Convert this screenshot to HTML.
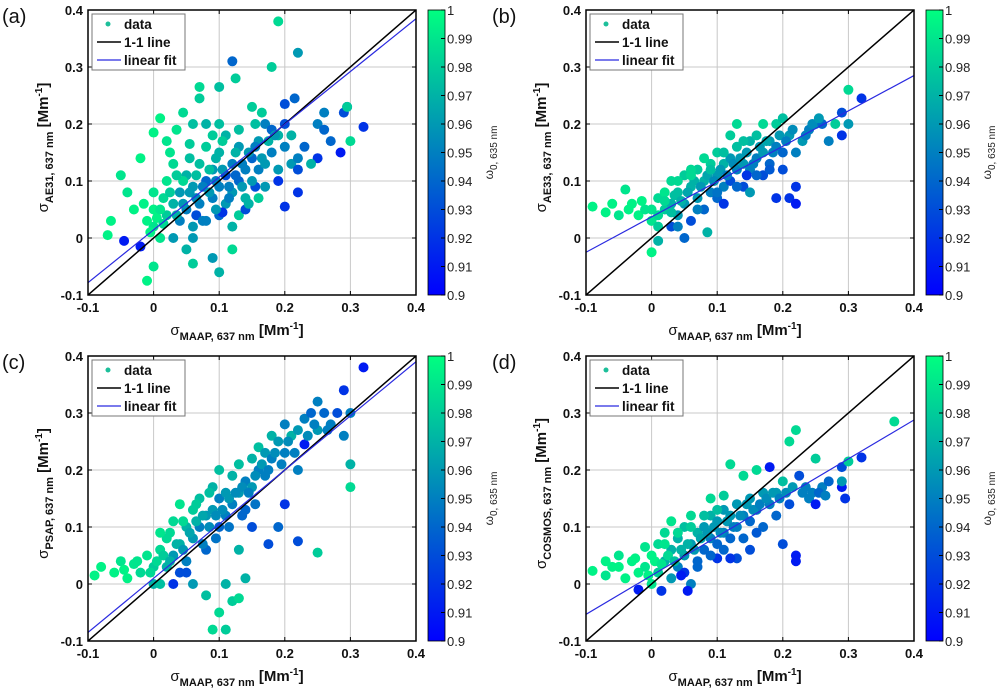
<!DOCTYPE html>
<html><head><meta charset="utf-8"><style>
body{margin:0;background:#fff;}
svg{display:block;font-family:"Liberation Sans",Arial,sans-serif;}
</style></head><body>
<svg id="fig" width="999" height="690" viewBox="0 0 999 690">
<defs>
<linearGradient id="cmap" x1="0" y1="1" x2="0" y2="0">
<stop offset="0" stop-color="rgb(0,0,255)"/><stop offset="1" stop-color="rgb(0,255,128)"/>
</linearGradient>
</defs>
</svg>
<script>
const xTicks = [-0.1, 0, 0.1, 0.2, 0.3, 0.4];
const yTicks = [-0.1, 0, 0.1, 0.2, 0.3, 0.4];
const xTickLabels = ["-0.1", "0", "0.1", "0.2", "0.3", "0.4"];
const yTickLabels = ["-0.1", "0", "0.1", "0.2", "0.3", "0.4"];
const cbTicks = [0.9,0.91,0.92,0.93,0.94,0.95,0.96,0.97,0.98,0.99,1];
const cbTickLabels = ["0.9","0.91","0.92","0.93","0.94","0.95","0.96","0.97","0.98","0.99","1"];
const panelNames = ["a","b","c","d"];
const instrumentNames = ["AE31","AE33","PSAP","COSMOS"];
const fitSlopes = [0.926, 0.62, 0.95, 0.682];
const fitIntercepts = [0.0143, 0.037, 0.01, 0.015];

const pointsA = [[0.19,0.38,.985],[0.22,0.325,.96],[0.12,0.31,.94],[0.18,0.3,.98],[0.32,0.195,.92],[0.295,0.23,.93],[0.29,0.22,.93],[0.285,0.15,.91],[0.3,0.17,.985],[0.295,0.23,.98],[-0.065,0.03,.995],[-0.07,0.005,.995],[-0.045,-0.005,.91],[-0.02,-0.015,.91],[-0.01,-0.075,.995],[0.0,-0.05,.99],[0.1,-0.06,.97],[0.09,-0.035,.96],[0.06,-0.045,.98],[0.12,-0.02,.985],[-0.05,0.11,.99],[-0.02,0.14,.995],[0.0,0.185,.995],[0.01,0.21,.995],[0.07,0.265,.985],[0.07,0.245,.98],[0.125,0.28,.98],[0.1,0.265,.975],[0.2,0.235,.93],[0.215,0.245,.94],[0.25,0.2,.95],[0.26,0.19,.94],[0.27,0.17,.94],[0.25,0.14,.92],[0.2,0.055,.92],[0.22,0.08,.92],[0.19,0.1,.92],[0.155,0.09,.93],[0.0,0.02,.99],[0.0,0.05,.995],[-0.01,0.03,.995],[0.01,0.0,.99],[0.02,0.04,.98],[0.03,0.06,.97],[0.02,0.1,.99],[0.03,0.13,.985],[0.04,0.08,.96],[0.05,0.05,.95],[0.05,0.11,.97],[0.06,0.09,.96],[0.06,0.02,.96],[0.07,0.06,.95],[0.07,0.13,.975],[0.08,0.1,.94],[0.08,0.16,.98],[0.09,0.07,.95],[0.09,0.12,.96],[0.1,0.04,.94],[0.1,0.09,.95],[0.1,0.15,.97],[0.1,0.2,.975],[0.11,0.11,.93],[0.11,0.06,.96],[0.12,0.13,.95],[0.12,0.08,.96],[0.13,0.1,.94],[0.13,0.16,.96],[0.13,0.19,.975],[0.14,0.07,.97],[0.14,0.12,.95],[0.15,0.14,.94],[0.15,0.1,.96],[0.15,0.23,.98],[0.16,0.17,.96],[0.16,0.12,.95],[0.17,0.2,.95],[0.17,0.13,.96],[0.18,0.19,.94],[0.18,0.15,.95],[0.19,0.12,.96],[0.19,0.18,.97],[0.2,0.16,.95],[0.2,0.2,.93],[0.21,0.13,.96],[0.21,0.18,.97],[0.22,0.14,.95],[0.22,0.12,.93],[0.23,0.16,.94],[0.24,0.13,.97],[0.26,0.22,.95],[0.04,0.03,.95],[0.03,0.0,.96],[0.05,-0.02,.97],[0.06,0.0,.96],[0.08,0.03,.95],[0.12,0.02,.97],[0.13,0.04,.98],[0.035,0.19,.99],[0.055,0.165,.98],[0.045,0.22,.985],[0.08,0.2,.97],[0.09,0.18,.98],[0.11,0.18,.97],[0.16,0.07,.98],[0.17,0.09,.96],[-0.03,0.05,.995],[-0.04,0.08,.99],[0.015,0.07,.985],[0.025,0.15,.99],[0.105,0.045,.92],[0.065,0.04,.93],[0.14,0.05,.93],
[-0.005,0.01,.995],[0.005,0.035,.995],[-0.015,0.06,.995],[0.0,0.08,.99],[0.01,0.05,.99],[0.015,0.025,.985],[0.025,0.08,.98],[0.035,0.04,.97],[0.045,0.06,.96],[0.055,0.08,.96],[0.065,0.07,.955],[0.075,0.09,.95],[0.085,0.08,.96],[0.095,0.1,.95],[0.105,0.12,.96],[0.115,0.09,.95],[0.125,0.11,.94],[0.135,0.13,.95],[0.145,0.15,.96],[0.155,0.16,.95],[0.165,0.14,.96],[0.175,0.17,.97],[0.185,0.18,.96],[0.125,0.15,.97],[0.085,0.12,.975],[0.065,0.11,.975],[0.045,0.1,.985],[0.075,0.03,.95],[0.095,0.05,.96],[0.115,0.07,.95],[0.135,0.09,.96],[0.145,0.06,.97],[0.035,0.11,.98],[0.055,0.14,.975],[0.095,0.14,.97],[0.105,0.17,.98],[0.155,0.2,.975],[0.165,0.22,.98],[0.06,0.2,.975],[0.02,0.17,.99]];

const pointsB = [[-0.09,0.055,.995],[-0.07,0.045,.995],[-0.06,0.06,.995],[-0.04,0.085,.99],[-0.05,0.04,.99],[-0.03,0.06,.995],[-0.02,0.04,.995],[-0.01,0.05,.99],[0.0,0.03,.99],[0.0,-0.025,.995],[0.01,0.07,.985],[0.01,0.02,.98],[0.02,0.05,.98],[0.02,0.08,.99],[0.03,0.06,.97],[0.03,0.1,.985],[0.04,0.04,.96],[0.04,0.08,.975],[0.05,0.11,.98],[0.05,0.06,.96],[0.06,0.09,.97],[0.06,0.03,.93],[0.07,0.12,.98],[0.07,0.07,.96],[0.08,0.1,.97],[0.08,0.05,.94],[0.09,0.13,.98],[0.09,0.08,.95],[0.1,0.11,.96],[0.1,0.07,.94],[0.1,0.15,.98],[0.11,0.13,.97],[0.11,0.09,.95],[0.12,0.14,.96],[0.12,0.1,.93],[0.13,0.16,.975],[0.13,0.12,.95],[0.14,0.13,.96],[0.14,0.09,.93],[0.15,0.17,.97],[0.15,0.12,.95],[0.16,0.14,.95],[0.16,0.18,.975],[0.17,0.15,.96],[0.17,0.11,.93],[0.18,0.17,.96],[0.18,0.13,.94],[0.19,0.16,.95],[0.19,0.2,.98],[0.2,0.15,.94],[0.2,0.12,.93],[0.21,0.18,.96],[0.21,0.07,.92],[0.22,0.09,.92],[0.22,0.06,.91],[0.22,0.15,.95],[0.23,0.17,.96],[0.24,0.19,.95],[0.25,0.2,.96],[0.26,0.2,.94],[0.27,0.17,.95],[0.29,0.22,.93],[0.29,0.18,.92],[0.3,0.26,.985],[0.3,0.2,.96],[0.32,0.245,.92],[0.28,0.2,.98],[0.19,0.07,.92],[0.05,0.0,.94],[0.03,0.02,.93],[0.085,0.01,.97],[0.01,-0.005,.97],[0.15,0.08,.96],[0.13,0.2,.985],[0.12,0.18,.98],[0.08,0.14,.985],[0.17,0.2,.985],[0.11,0.06,.92],[0.06,0.12,.985],[0.04,0.02,.95],[0.145,0.11,.92],[0.2,0.21,.975],
[0.0,0.05,.99],[0.01,0.04,.985],[0.02,0.065,.985],[0.03,0.045,.975],[0.035,0.075,.975],[0.045,0.065,.97],[0.055,0.08,.965],[0.065,0.1,.97],[0.075,0.09,.96],[0.085,0.11,.965],[0.095,0.1,.955],[0.105,0.12,.96],[0.115,0.11,.95],[0.125,0.13,.955],[0.135,0.14,.96],[0.145,0.15,.96],[0.155,0.13,.95],[0.165,0.16,.96],[0.175,0.17,.965],[0.185,0.15,.95],[0.195,0.18,.96],[0.205,0.17,.95],[0.215,0.19,.955],[0.235,0.18,.95],[0.245,0.2,.955],[0.255,0.21,.96],[0.04,0.1,.985],[0.06,0.11,.985],[0.09,0.12,.975],[0.11,0.15,.975],[0.14,0.17,.975],[0.07,0.05,.95],[0.1,0.08,.945],[0.13,0.09,.94],[0.16,0.11,.94],[0.18,0.12,.935],[-0.015,0.065,.995],[-0.035,0.05,.995]];

const pointsC = [[-0.09,0.015,.995],[-0.08,0.03,.995],[-0.06,0.02,.995],[-0.05,0.04,.99],[-0.04,0.01,.995],[-0.03,0.035,.99],[-0.02,0.02,.985],[-0.01,0.05,.99],[0.0,0.03,.98],[0.0,0.0,.97],[0.01,0.06,.985],[0.02,0.03,.97],[0.02,0.08,.985],[0.03,0.05,.96],[0.03,0.11,.985],[0.04,0.07,.97],[0.04,0.02,.93],[0.05,0.1,.97],[0.05,0.04,.95],[0.06,0.13,.98],[0.06,0.08,.96],[0.07,0.15,.975],[0.07,0.1,.95],[0.08,0.12,.96],[0.08,0.06,.94],[0.09,0.17,.97],[0.09,0.13,.96],[0.1,0.15,.95],[0.1,0.1,.94],[0.1,0.2,.975],[0.11,0.16,.96],[0.11,0.12,.95],[0.12,0.19,.97],[0.12,0.14,.95],[0.13,0.21,.975],[0.13,0.16,.96],[0.14,0.18,.95],[0.14,0.13,.94],[0.15,0.22,.97],[0.15,0.17,.96],[0.16,0.2,.95],[0.16,0.24,.975],[0.17,0.19,.95],[0.17,0.23,.96],[0.18,0.22,.95],[0.18,0.26,.97],[0.19,0.25,.96],[0.2,0.23,.95],[0.2,0.28,.95],[0.21,0.26,.97],[0.22,0.27,.96],[0.22,0.2,.95],[0.23,0.29,.95],[0.24,0.3,.94],[0.25,0.27,.96],[0.26,0.3,.94],[0.27,0.28,.95],[0.28,0.3,.93],[0.29,0.34,.92],[0.29,0.26,.95],[0.3,0.17,.985],[0.3,0.21,.97],[0.32,0.38,.91],[0.3,0.3,.95],[0.09,-0.08,.985],[0.11,-0.08,.98],[0.1,-0.05,.985],[0.12,-0.03,.98],[0.08,-0.02,.975],[0.13,-0.025,.985],[0.11,0.0,.97],[0.14,0.01,.97],[0.06,0.0,.96],[0.05,0.02,.93],[0.22,0.075,.93],[0.25,0.055,.98],[0.19,0.1,.94],[0.2,0.14,.92],[0.23,0.245,.91],[0.25,0.32,.95],[0.175,0.07,.93],[0.15,0.1,.93],[0.03,0.0,.92],[0.13,0.06,.97],[0.01,0.09,.99],[0.04,0.14,.99],
[-0.005,0.02,.985],[0.005,0.04,.985],[0.015,0.05,.98],[0.025,0.04,.97],[0.035,0.07,.97],[0.045,0.06,.96],[0.055,0.09,.965],[0.065,0.11,.97],[0.075,0.12,.965],[0.085,0.1,.955],[0.095,0.12,.955],[0.105,0.13,.955],[0.115,0.15,.96],[0.125,0.16,.955],[0.135,0.17,.955],[0.145,0.16,.95],[0.155,0.19,.955],[0.165,0.21,.96],[0.175,0.2,.95],[0.185,0.23,.955],[0.195,0.21,.95],[0.205,0.25,.955],[0.215,0.23,.95],[0.235,0.26,.955],[0.245,0.28,.95],[0.265,0.27,.95],[0.025,0.09,.985],[0.045,0.11,.985],[0.065,0.14,.98],[0.085,0.16,.975],[0.075,0.07,.95],[0.095,0.08,.945],[0.115,0.1,.945],[0.135,0.12,.94],[0.155,0.14,.945],[-0.025,0.04,.99],[-0.045,0.025,.995],[0.01,0.0,.975]];

const pointsD = [[-0.09,0.023,.995],[-0.07,0.04,.995],[-0.07,0.015,.99],[-0.05,0.05,.99],[-0.05,0.03,.995],[-0.04,0.01,.995],[-0.03,0.04,.995],[-0.02,0.02,.995],[-0.01,0.065,.99],[-0.01,0.03,.99],[0.0,0.0,.99],[0.0,0.05,.995],[0.01,0.02,.98],[0.01,0.07,.985],[0.02,0.04,.97],[0.02,0.09,.985],[0.03,0.06,.97],[0.03,0.01,.96],[0.03,0.11,.99],[0.04,0.08,.97],[0.04,0.03,.95],[0.05,0.1,.975],[0.05,0.05,.96],[0.05,0.02,.92],[0.06,0.07,.96],[0.06,0.12,.985],[0.06,0.0,.95],[0.07,0.09,.97],[0.07,0.04,.94],[0.08,0.1,.96],[0.08,0.06,.94],[0.09,0.12,.97],[0.09,0.08,.95],[0.09,0.15,.985],[0.1,0.11,.96],[0.1,0.07,.94],[0.1,0.045,.92],[0.11,0.13,.96],[0.11,0.09,.95],[0.12,0.12,.96],[0.12,0.08,.94],[0.12,0.21,.985],[0.13,0.14,.96],[0.13,0.1,.95],[0.13,0.045,.93],[0.14,0.12,.95],[0.14,0.19,.985],[0.15,0.15,.96],[0.15,0.11,.94],[0.15,0.06,.93],[0.16,0.2,.985],[0.16,0.13,.95],[0.17,0.16,.96],[0.17,0.1,.94],[0.18,0.14,.95],[0.18,0.205,.91],[0.19,0.16,.96],[0.19,0.12,.94],[0.2,0.18,.975],[0.2,0.07,.93],[0.21,0.25,.985],[0.21,0.14,.93],[0.22,0.27,.985],[0.22,0.05,.91],[0.22,0.04,.91],[0.225,0.19,.93],[0.23,0.16,.95],[0.24,0.15,.95],[0.25,0.22,.98],[0.25,0.14,.91],[0.26,0.17,.95],[0.27,0.18,.94],[0.29,0.205,.93],[0.29,0.17,.91],[0.29,0.18,.96],[0.295,0.15,.92],[0.3,0.215,.98],[0.32,0.222,.92],[0.37,0.285,.985],[-0.02,-0.01,.91],[0.045,0.015,.91],[0.055,-0.012,.91],[0.015,-0.012,.92],[0.12,0.045,.92],
[-0.005,0.015,.995],[0.005,0.04,.995],[0.015,0.035,.99],[0.025,0.05,.985],[0.035,0.04,.975],[0.045,0.06,.97],[0.055,0.07,.97],[0.065,0.06,.96],[0.075,0.08,.965],[0.085,0.09,.96],[0.095,0.1,.96],[0.105,0.09,.955],[0.115,0.11,.96],[0.125,0.1,.95],[0.135,0.12,.955],[0.145,0.14,.96],[0.155,0.13,.955],[0.165,0.14,.95],[0.175,0.15,.955],[0.185,0.16,.96],[0.195,0.15,.95],[0.205,0.16,.955],[0.215,0.17,.96],[0.235,0.17,.95],[0.245,0.16,.95],[0.255,0.16,.94],[0.265,0.155,.95],[0.02,0.07,.99],[0.04,0.09,.985],[0.06,0.1,.98],[0.08,0.12,.975],[0.1,0.13,.975],[0.11,0.155,.98],[0.07,0.03,.94],[0.09,0.05,.94],[0.11,0.06,.94],[0.14,0.08,.94],[0.16,0.09,.935],[-0.025,0.045,.995],[-0.06,0.03,.995]];

const allPoints = [pointsA, pointsB, pointsC, pointsD];

const NS = "http://www.w3.org/2000/svg";
const svg = document.getElementById("fig");
const layout = [{x0:88,y0:10,cbx:428},{x0:586,y0:10,cbx:926},{x0:88,y0:356,cbx:428},{x0:586,y0:356,cbx:926}];
const W = 328, H = 285;
function mk(tag, attrs, parent){const e=document.createElementNS(NS,tag);for(const k in attrs)e.setAttribute(k,attrs[k]);(parent||svg).appendChild(e);return e;}
function cmap(w){const t=Math.max(0,Math.min(1,(w-0.9)/0.1));return `rgb(0,${Math.round(255*t)},${Math.round(255-127*t)})`;}

panelNames.forEach((p, i) => {
  const L = layout[i];
  const g = mk("g", {});
  
  
  const sx = v => L.x0 + (v + 0.1) / 0.5 * W;
  const sy = v => L.y0 + H - (v + 0.1) / 0.5 * H;
  mk("rect", {x:L.x0,y:L.y0,width:W,height:H,fill:"#fff"}, g);
  xTicks.forEach((t,k) => {
    const gl = mk("line",{x1:sx(t),x2:sx(t),y1:L.y0,y2:L.y0+H,stroke:"#c8c8c8","stroke-width":1},g);
    
    
    const tl = mk("text",{x:sx(t),y:L.y0+H+17,"text-anchor":"middle","font-size":13,"font-weight":"bold",fill:"#111"},g);
    tl.textContent = xTickLabels[k];
    
    
    mk("line",{x1:sx(t),x2:sx(t),y1:L.y0+H,y2:L.y0+H-4,stroke:"#000"},g);
    mk("line",{x1:sx(t),x2:sx(t),y1:L.y0,y2:L.y0+4,stroke:"#000"},g);
  });
  yTicks.forEach((t,k) => {
    const gl = mk("line",{x1:L.x0,x2:L.x0+W,y1:sy(t),y2:sy(t),stroke:"#c8c8c8","stroke-width":1},g);
    
    
    const tl = mk("text",{x:L.x0-5,y:sy(t)+5,"text-anchor":"end","font-size":13,"font-weight":"bold",fill:"#111"},g);
    tl.textContent = yTickLabels[k];
    
    
    mk("line",{x1:L.x0,x2:L.x0+4,y1:sy(t),y2:sy(t),stroke:"#000"},g);
    mk("line",{x1:L.x0+W,x2:L.x0+W-4,y1:sy(t),y2:sy(t),stroke:"#000"},g);
  });
  const cp = mk("clipPath",{id:"clip"+p},g);
  mk("rect",{x:L.x0,y:L.y0,width:W,height:H},cp);
  const pg = mk("g",{"clip-path":`url(#clip${p})`},g);
  allPoints[i].forEach(d => {
    const c = mk("circle",{cx:sx(d[0]),cy:sy(d[1]),r:5,fill:cmap(d[2])},pg);
    
    
  });
  const one = mk("line",{x1:sx(-0.1),y1:sy(-0.1),x2:sx(0.4),y2:sy(0.4),stroke:"#000","stroke-width":1.5},pg);
  
  
  const fit = mk("line",{x1:sx(-0.1),y1:sy(fitSlopes[i]*-0.1+fitIntercepts[i]),x2:sx(0.4),y2:sy(fitSlopes[i]*0.4+fitIntercepts[i]),stroke:"#2a2ae0","stroke-width":1.2},pg);
  
  
  const box = mk("rect",{x:L.x0,y:L.y0,width:W,height:H,fill:"none",stroke:"#000","stroke-width":1.5},g);
  
  
  const lg = mk("g",{},g);
  
  
  mk("rect",{x:L.x0+4,y:L.y0+4,width:93,height:56,fill:"#fff",stroke:"#777","stroke-width":1},lg);
  mk("circle",{cx:L.x0+20,cy:L.y0+14,r:2.5,fill:"#1dbf9a"},lg);
  mk("line",{x1:L.x0+9,x2:L.x0+33,y1:L.y0+32,y2:L.y0+32,stroke:"#000","stroke-width":1.5},lg);
  mk("line",{x1:L.x0+9,x2:L.x0+33,y1:L.y0+50,y2:L.y0+50,stroke:"#2a2ae0","stroke-width":1.2},lg);
  ["data","1-1 line","linear fit"].forEach((s,k)=>{
    const t = mk("text",{x:L.x0+36,y:L.y0+19+k*18,"font-size":13.5,"font-weight":"bold",fill:"#111"},lg);
    t.textContent = s;
    
    
  });
  const cb = mk("rect",{x:L.cbx,y:L.y0,width:17,height:H,fill:"url(#cmap)",stroke:"#000","stroke-width":0.8},g);
  
  
  cbTicks.forEach((t,k)=>{
    const yy = L.y0 + H - (t-0.9)/0.1*H;
    mk("line",{x1:L.cbx+17,x2:L.cbx+13,y1:yy,y2:yy,stroke:"#000"},g);
    const tl = mk("text",{x:L.cbx+19,y:yy+5,"font-size":13,fill:"#222"},g);
    tl.textContent = cbTickLabels[k];
    
    
  });
  const cbt = mk("text",{transform:`translate(${L.cbx+65},${L.y0+H/2}) rotate(-90)`,"text-anchor":"middle","font-size":12,fill:"#222"},g);
  cbt.innerHTML = 'ω<tspan font-size="10" dy="4">0, 635 nm</tspan>';
  
  
  const xl = mk("text",{x:L.x0+W/2-15,y:L.y0+H+40,"text-anchor":"middle","font-size":15,"font-weight":"bold",fill:"#111"},g);
  xl.innerHTML = '<tspan font-weight="normal">σ</tspan><tspan font-size="11" dy="5">MAAP, 637 nm</tspan><tspan dy="-5"> [Mm</tspan><tspan font-size="10" dy="-6">-1</tspan><tspan dy="6">]</tspan>';
  
  
  const yl = mk("text",{transform:`translate(${L.x0-40},${L.y0+H/2-5}) rotate(-90)`,"text-anchor":"middle","font-size":15,"font-weight":"bold",fill:"#111"},g);
  yl.innerHTML = `<tspan font-weight="normal">σ</tspan><tspan font-size="11" dy="5">${instrumentNames[i]}, 637 nm</tspan><tspan dy="-5"> [Mm</tspan><tspan font-size="10" dy="-6">-1</tspan><tspan dy="6">]</tspan>`;
  
  
  const pl = mk("text",{x:L.x0-86+(i%2?-8:0),y:L.y0+13,"font-size":20,fill:"#111"},g);
  pl.textContent = "(" + p + ")";
  
  
});
</script>
</body></html>
